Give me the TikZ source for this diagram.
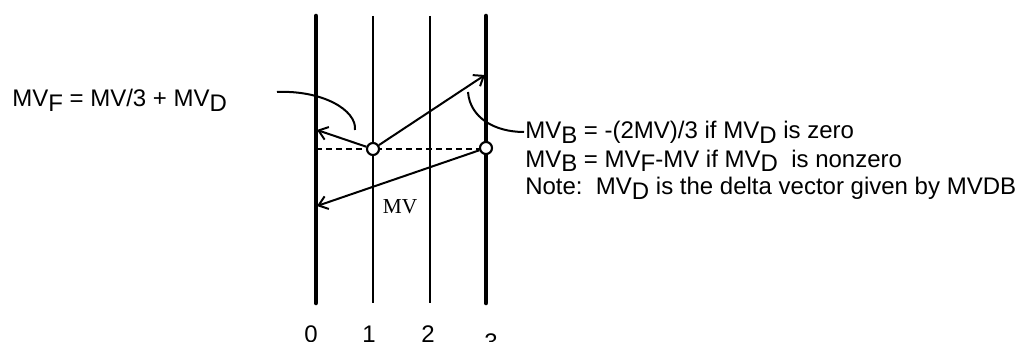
\documentclass[tikz,border=0pt]{standalone}
\usepackage{fontspec}
\setmainfont{Liberation Sans}
\newfontfamily\serifmv{Liberation Serif}
\usetikzlibrary{arrows.meta}
\newcommand\lowsub[1]{\raisebox{-3.6pt}{#1}}
\tikzset{
  thickline/.style={line width=3.4pt, line cap=round},
  thinline/.style={line width=1.4pt},
  vec/.style={line width=1.5pt, -{Straight Barb[length=6.5pt,width=10pt,line width=1.5pt]}},
  pointer/.style={line width=1.5pt},
  pt/.style={circle, draw, fill=white, line width=1.6pt, minimum size=9pt, inner sep=0pt},
  lbl/.style={inner sep=0pt, font=\fontsize{18pt}{20pt}\selectfont},
  num/.style={inner sep=0pt, anchor=base, font=\fontsize{18pt}{20pt}\selectfont},
}
\begin{document}
\begin{tikzpicture}[x=0.75pt,y=-0.75pt]
\useasboundingbox (0,0) rectangle (1020,342);
\clip (0,0) rectangle (1020,342);
% lines
\coordinate (l0t) at (316,16); \coordinate (l0b) at (316,303);
\coordinate (l1t) at (373,16); \coordinate (l1b) at (373,303);
\coordinate (l2t) at (430,16); \coordinate (l2b) at (430,303);
\coordinate (l3t) at (486,16); \coordinate (l3b) at (486,303);
\draw[thickline] (l0t) -- (l0b);
\draw[thinline] (l1t) -- (l1b);
\draw[thinline] (l2t) -- (l2b);
\draw[thickline] (l3t) -- (l3b);
% dashed line
\coordinate (d0) at (316,149);
\coordinate (d3) at (486,149);
\draw[line width=2pt, dash pattern=on 4.5pt off 3pt] (d0) -- (d3);
% points
\node[pt] (c1) at (373,149) {};
\node[pt] (c3) at (486,148) {};
% vectors
\coordinate (t1) at (317,130);
\coordinate (t2) at (485,75);
\coordinate (t3) at (317,206);
\draw[vec] (c1) -- (t1);
\draw[vec] (c1) -- (t2);
\draw[vec] (c3) -- (t3);
% curved pointers
\coordinate (a0) at (277,92);
\coordinate (a1) at (355,130);
\draw[pointer] (a0) .. controls (322,90) and (357,110) .. (a1);
\coordinate (b0) at (468,92);
\coordinate (b1) at (524,132);
\draw[pointer] (b0) .. controls (470,118) and (495,132) .. (b1);
% labels
\node[lbl, anchor=base west] (mvf) at (12,107) {MV\lowsub{F} = MV/3 + MV\lowsub{D}};
\node[lbl, anchor=base west] (r1) at (525,139) {MV\lowsub{B} = -(2MV)/3 if MV\lowsub{D} is zero};
\node[lbl, anchor=base west] (r2) at (525,167) {MV\lowsub{B} = MV\lowsub{F}-MV if MV\lowsub{D}\ \ is nonzero};
\node[lbl, anchor=base west] (r3) at (525,195) {Note:\ \ MV\lowsub{D} is the delta vector given by MVDB};
\node[inner sep=0pt, font=\serifmv\fontsize{16pt}{18pt}\selectfont] (mv) at (400,207) {MV};
\node[num] (n0) at (311,342) {0};
\node[num] (n1) at (369,342) {1};
\node[num] (n2) at (428,342) {2};
\node[num] (n3) at (491,350) {3};
\end{tikzpicture}
\end{document}
